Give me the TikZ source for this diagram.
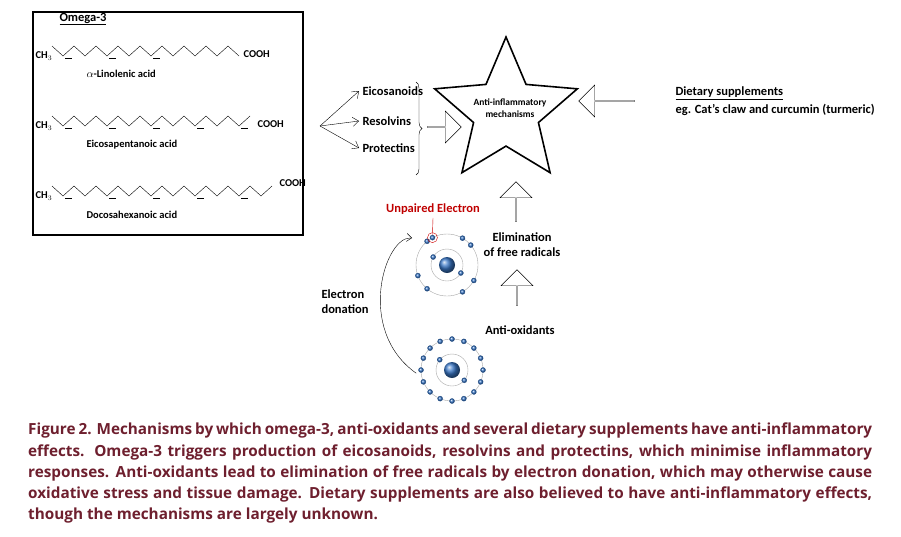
\documentclass[tikz,border=0pt]{standalone}
\usepackage{fontspec}
\setmainfont{Carlito}
\newfontfamily\capfont{Open Sans}
\usetikzlibrary{calc,shapes.geometric,shapes.arrows,decorations.pathreplacing,arrows.meta}
\definecolor{capred}{HTML}{6E1F2E}
\definecolor{elblue}{HTML}{3A78C8}
\tikzset{
  lbl/.style={font=\bfseries\fontsize{12.5}{15}\selectfont, align=left},
  small/.style={font=\bfseries\fontsize{10.5}{12}\selectfont},
  bigarrow/.style={draw, single arrow, minimum height=34pt, minimum width=32pt, single arrow head extend=6pt, inner sep=0pt},
  electron/.style={circle, draw=elblue!70!black, ball color=elblue, inner sep=0pt, minimum size=5pt},
  orbit/.style={draw=gray!70, thin}
}
\newcommand{\chain}[4]{% x0, y, bonds, double bond list
  \foreach \i in {1,...,#3}{
    \pgfmathsetmacro{\ya}{#2+5*(-1)^(\i)}
    \pgfmathsetmacro{\yb}{#2-5*(-1)^(\i)}
    \draw ({#1+(\i-1)*11},\ya) -- ({#1+\i*11},\yb);
  }
  \foreach \j in {#4}{
    \draw ({#1+(\j-1)*11+2},#2+7) -- ({#1+\j*11-2},#2+7);
  }
}
\begin{document}
\begin{tikzpicture}[x=1pt,y=-1pt]
\useasboundingbox (0,0) rectangle (901,536);
% omega-3 box
\draw[line width=2.5pt] (33,12) rectangle (303,235);
\node[lbl, anchor=west] (omega) at (56,19) {\underline{Omega-3}};
\node[small] (ch1) at (44,56) {CH$_3$};
\chain{52}{51}{17}{2,6,10}
\node[small, anchor=west] (cooh1) at (240,54) {COOH};
\node[small, anchor=west] (ala) at (83,74) {$\alpha$-Linolenic acid};
\node[small] (ch2) at (44,126) {CH$_3$};
\chain{52}{121}{18}{2,6,10,14,18}
\node[small, anchor=west] (cooh2) at (254,124) {COOH};
\node[small, anchor=west] (epa) at (83,145) {Eicosapentanoic acid};
\node[small] (ch3) at (44,196) {CH$_3$};
\chain{52}{191}{20}{2,6,10,14,18}
\node[small, anchor=west] (cooh3) at (276,183) {COOH};
\node[small, anchor=west] (dha) at (83,215) {Docosahexanoic acid};
% products
\coordinate (fan) at (320,126);
\node[lbl, anchor=west] (eico) at (359,91) {Eicosanoids};
\node[lbl, anchor=west] (reso) at (359,121) {Resolvins};
\node[lbl, anchor=west] (prot) at (359,148) {Protectins};
\foreach \t in {eico,reso,prot}
  \draw[-{Straight Barb[length=6pt,width=9pt]}] (fan) -- (\t.west);
\draw[decorate, decoration={brace, amplitude=6pt}] (416,82) -- (416,175);
\node[bigarrow, minimum height=34pt] (ar1) at (444,127) {};
% star
\node[star, star points=5, star point ratio=2.2, draw, line width=1.6pt, minimum size=150pt, inner sep=0pt] (star) at (506,112) {};
\node[font=\bfseries\fontsize{9.5}{11.5}\selectfont, align=center] (mech) at (510,108) {Anti-inflammatory\\mechanisms};
\node[bigarrow, shape border rotate=180, minimum height=56pt] (ar2) at (607,101) {};
\node[lbl, anchor=west] (diet) at (672,93) {\underline{Dietary supplements}};
\node[lbl, anchor=west] (eg) at (672,110) {eg. Cat’s claw and curcumin (turmeric)};
% radicals
\node[bigarrow, shape border rotate=90, minimum height=40pt] (ar3) at (516,202) {};
\node[lbl, align=center] (elim) at (522,245) {Elimination\\of free radicals};
\node[bigarrow, shape border rotate=90, minimum height=36pt] (ar4) at (517,288) {};
\node[lbl] (anti) at (520,330) {Anti-oxidants};
\node[lbl, text=red!75!black] (unp) at (433,209) {Unpaired Electron};
% atoms
\coordinate (at1) at (447,265);
\coordinate (at2) at (452,370);
\foreach \c in {at1,at2}{
  \draw[orbit] (\c) circle (16);
  \draw[orbit] (\c) circle (31);
  \shade[ball color=elblue] (\c) circle (8);
}
\foreach \a in {-130,-60,30,60,130,160,-40}
  \node[electron] at ($(at1)+(\a:31)$) {};
\foreach \a in {-150,30}
  \node[electron] at ($(at1)+(\a:16)$) {};
\node[electron] (unpe) at ($(at1)+(-118:31)$) {};
\draw[red!80!black] (unpe) circle (5);
\draw[red!80!black] (unpe.north) -- (unp.south);
\foreach \a in {0,22.5,...,337.5}
  \node[electron] at ($(at2)+(\a:31)$) {};
\foreach \a in {-140,40}
  \node[electron] at ($(at2)+(\a:16)$) {};
\node[lbl] (don) at (345,302) {Electron\\donation};
\draw[-{Straight Barb[length=5pt,width=8pt]}] ($(at2)+(175:36)$) .. controls (355,330) and (385,235) .. (412,238);
% caption
\node[anchor=north west, text width=844pt, align=justify, text=capred,
  font=\capfont\bfseries\fontsize{15.3}{21.2}\selectfont, inner sep=0pt] (cap) at (28,423)
  {Figure 2. Mechanisms by which omega-3, anti-oxidants and several dietary supplements have anti-inflammatory effects. Omega-3 triggers production of eicosanoids, resolvins and protectins, which minimise inflammatory responses. Anti-oxidants lead to elimination of free radicals by electron donation, which may otherwise cause oxidative stress and tissue damage. Dietary supplements are also believed to have anti-inflammatory effects, though the mechanisms are largely unknown.\par};
\end{tikzpicture}
\end{document}
